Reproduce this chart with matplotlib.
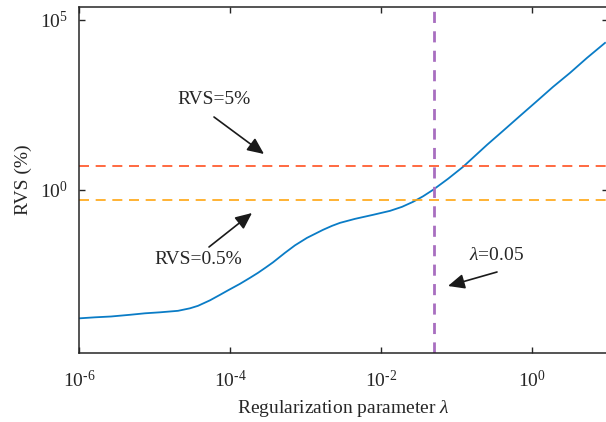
import matplotlib
matplotlib.use('Agg')
import matplotlib.pyplot as plt
from matplotlib.ticker import FixedFormatter
import numpy as np

plt.rcParams['font.family'] = ['Liberation Serif', 'DejaVu Serif']
plt.rcParams['mathtext.fontset'] = 'custom'
plt.rcParams['mathtext.rm'] = 'Liberation Serif'
plt.rcParams['mathtext.it'] = 'Liberation Serif:italic'
plt.rcParams['axes.unicode_minus'] = False

# regularization parameter vs RVS curve (log10 values)
log_lam = [-5.987, -5.788, -5.576, -5.325, -5.126, -4.927, -4.689, -4.530, -4.424, -4.265,
           -4.132, -4.026, -3.868, -3.735, -3.629, -3.523, -3.430, -3.272, -3.139, -2.980,
           -2.874, -2.768, -2.649, -2.543, -2.344, -2.106, -1.881, -1.722, -1.576, -1.444,
           -1.311, -1.113, -0.914, -0.755, -0.596, -0.384, -0.159, 0.053, 0.278, 0.503,
           0.728, 0.967]
log_rvs = [-3.779, -3.750, -3.726, -3.676, -3.632, -3.603, -3.559, -3.485, -3.412, -3.250,
           -3.088, -2.956, -2.765, -2.588, -2.441, -2.279, -2.132, -1.853, -1.632, -1.412,
           -1.294, -1.176, -1.059, -0.971, -0.853, -0.735, -0.618, -0.500, -0.353, -0.191,
           0.000, 0.324, 0.676, 1.000, 1.324, 1.735, 2.176, 2.588, 3.029, 3.441,
           3.882, 4.324]

rvs_high = 5.0
rvs_low = 0.5
lam_sel = 0.05

xticks = [1e-6, 1e-4, 1e-2, 1e0]
xticklabels = [r'$10^{\text{-6}}$', r'$10^{\text{-4}}$', r'$10^{\text{-2}}$', r'$10^{0}$']
yticks = [1e0, 1e5]
yticklabels = [r'$10^{0}$', r'$10^{5}$']

lam = 10.0 ** np.array(log_lam)
rvs = 10.0 ** np.array(log_rvs)

fig = plt.figure(figsize=(6.06, 4.22), dpi=100)
ax = fig.add_axes([79/606, 69/422, 528.5/606, 346/422])

ax.plot(lam, rvs, color='#0A7CC6', lw=1.3)
ax.axhline(rvs_high, color='#FF5020', lw=1.2, ls=(0, (6, 4)))
ax.axhline(rvs_low, color='#FFA510', lw=1.2, ls=(0, (6, 4)))
ax.axvline(lam_sel, color='#A86EC0', lw=2.0, ls=(0, (4, 3)))

ax.set_xscale('log')
ax.set_yscale('log')
ax.set_xlim(1e-6, 10)
ax.set_ylim(10**-4.8, 10**5.38)
ax.set_xticks(xticks)
ax.set_yticks(yticks)
ax.minorticks_off()
ax.xaxis.set_major_formatter(FixedFormatter(xticklabels))
ax.yaxis.set_major_formatter(FixedFormatter(yticklabels))
ax.tick_params(direction='in', length=4, width=1, top=True, right=True,
               labelsize=14, colors='#262626')
ax.tick_params(axis='x', pad=12)
ax.tick_params(axis='y', pad=8)
for s in ax.spines.values():
    s.set_color('#262626')
    s.set_linewidth(1.1)

ax.set_xlabel(r'Regularization parameter $\lambda$', fontsize=14, color='#262626', labelpad=5)
ax.set_ylabel('RVS (%)', fontsize=14, color='#262626', labelpad=6)

arrow = dict(arrowstyle='-|>,head_length=1.0,head_width=0.45', color='#1a1a1a',
             lw=1.2, shrinkA=0, shrinkB=0)
H = 422
ax.annotate('', xy=(264, H-154), xytext=(214, H-117), xycoords='figure pixels',
            textcoords='figure pixels', arrowprops=arrow)
ax.annotate('', xy=(252, H-213), xytext=(209, H-247), xycoords='figure pixels',
            textcoords='figure pixels', arrowprops=arrow)
ax.annotate('', xy=(448, H-286), xytext=(497, H-272), xycoords='figure pixels',
            textcoords='figure pixels', arrowprops=arrow)
fig.text(214/606, (H-100)/H, 'RVS=5%', fontsize=14, ha='center', va='center', color='#262626')
fig.text(198/606, (H-260)/H, 'RVS=0.5%', fontsize=14, ha='center', va='center', color='#262626')
fig.text(497/606, (H-255)/H, r'$\lambda$=0.05', fontsize=14, ha='center', va='center', color='#262626')

plt.savefig('out.png', dpi=100)
